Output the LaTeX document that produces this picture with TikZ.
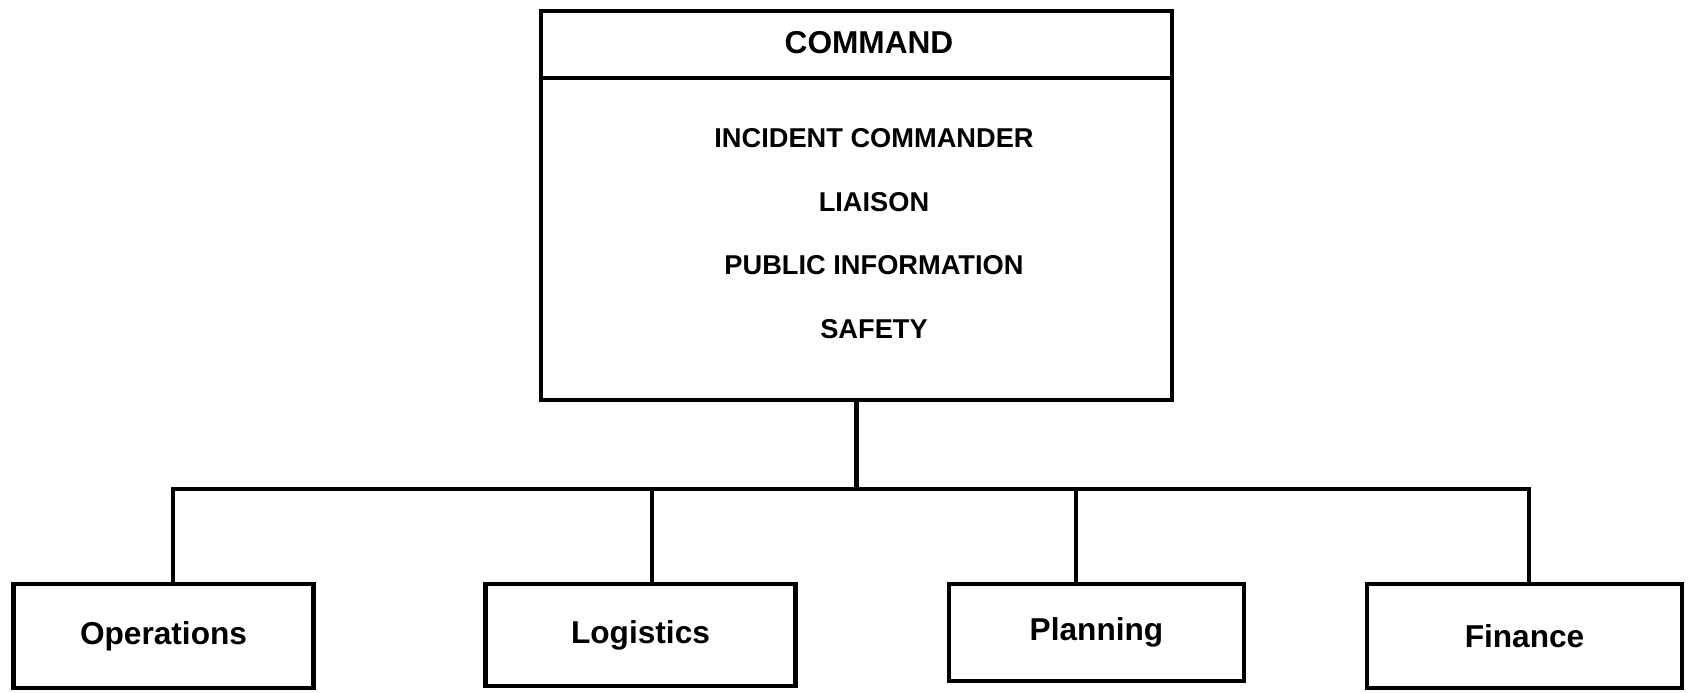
\documentclass[tikz,border=0pt]{standalone}
\usepackage{fontspec}
\setmainfont{Liberation Sans}
\usetikzlibrary{positioning}

\tikzset{
  box/.style={draw,line width=2.5pt,minimum height=2.04cm,font=\fontsize{18}{20}\selectfont\bfseries},
  item/.style={font=\fontsize{15.5}{18}\selectfont\bfseries},
  link/.style={line width=2.5pt}
}

\begin{document}
\begin{tikzpicture}
\useasboundingbox (0,0) rectangle (33.82,-13.86);
% command box with header band
\node[draw,line width=2.5pt,minimum width=12.62cm,minimum height=7.78cm] (cmd) at (17.13,-4.11) {};
\coordinate (divL) at ([yshift=-1.38cm]cmd.north west);
\coordinate (divR) at ([yshift=-1.38cm]cmd.north east);
\draw[link] (divL) -- (divR);
\node[font=\fontsize{18}{20}\selectfont\bfseries] (hdr) at (17.38,-0.86) {COMMAND};
% staff positions
\foreach \nm/\y/\txt in {ic/-2.76/INCIDENT COMMANDER,lia/-4.04/LIAISON,pio/-5.30/PUBLIC INFORMATION,saf/-6.58/SAFETY}
  \node[item] (\nm) at (17.48,\y) {\txt};

% general staff sections
\node[box,minimum width=6.0cm,minimum height=2.08cm] (ops) at (3.27,-12.72) {Operations};
\node[box,minimum width=6.2cm] (log) at (12.81,-12.70) {Logistics};
\node[box,minimum width=5.9cm,minimum height=1.94cm] (plan) at (21.93,-12.65) {Planning};
\node[box,minimum width=6.3cm,minimum height=2.08cm] (fin) at (30.49,-12.72) {Finance};

% tree connectors
\coordinate (d1) at (3.46,-9.78);
\coordinate (d2) at (13.04,-9.78);
\coordinate (d3) at (21.52,-9.78);
\coordinate (d4) at (30.58,-9.78);
\draw[link] (cmd.south) -- (cmd.south |- d1);
\draw[link,line cap=rect] (d1) -- (d4);
\foreach \d/\b in {d1/ops,d2/log,d3/plan,d4/fin}
  \draw[link] (\d) -- (\d |- \b.north);
\end{tikzpicture}
\end{document}
